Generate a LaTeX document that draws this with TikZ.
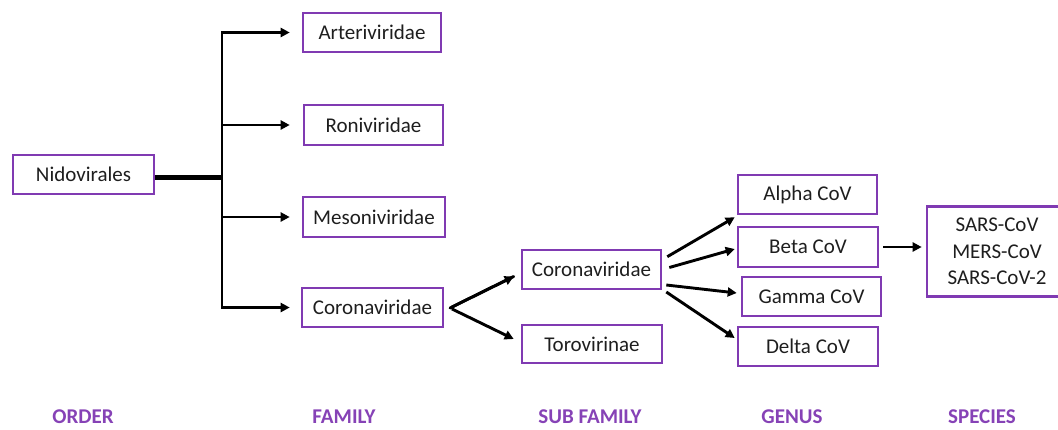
\documentclass[tikz,border=0pt]{standalone}
\usepackage{fontspec}
\setmainfont{Carlito}
\usetikzlibrary{arrows.meta}
\definecolor{boxc}{RGB}{128,58,178}
\definecolor{labc}{RGB}{134,66,182}
\definecolor{txt}{RGB}{30,30,30}
\begin{document}
\begin{tikzpicture}[x=1pt,y=-1pt,
  box/.style={draw=boxc, line width=2.6pt, text=txt, inner sep=0pt,
    font=\fontsize{21}{26.5}\selectfont},
  lab/.style={text=labc, font=\fontsize{21}{24}\selectfont\bfseries},
  conn/.style={line width=2.9pt, black},
  arr/.style={conn, -{Triangle[length=9pt,width=9pt]}}]
\useasboundingbox (0,0) rectangle (1058,429);
\begin{scope}
\clip (0,0) rectangle (1058,429);
% nodes
\node[box, minimum width=141pt, minimum height=39pt] (nido) at (83.5,174.5) {Nidovirales};
\node[box, minimum width=138pt, minimum height=39pt] (arter) at (372,32.5) {Arteriviridae};
\node[box, minimum width=139pt, minimum height=40pt] (roni) at (373.5,125) {Roniviridae};
\node[box, minimum width=142pt, minimum height=40pt] (meso) at (374,217) {Mesoniviridae};
\node[box, minimum width=141pt, minimum height=39pt] (corof) at (372.5,307.5) {Coronaviridae};
\node[box, minimum width=139pt, minimum height=39pt] (coros) at (591.5,269.5) {Coronaviridae};
\node[box, minimum width=140pt, minimum height=38pt] (toro) at (592,344) {Torovirinae};
\node[box, minimum width=139pt, minimum height=39pt] (alpha) at (807.5,194.5) {Alpha CoV};
\node[box, minimum width=140pt, minimum height=40pt] (beta) at (808,247) {Beta CoV};
\node[box, minimum width=139pt, minimum height=39pt] (gamma) at (811.5,296.5) {Gamma CoV};
\node[box, minimum width=140pt, minimum height=39pt] (delta) at (808,346.5) {Delta CoV};
\node[box, minimum width=140pt, minimum height=90pt, align=center] (species) at (997,251.5) {SARS-CoV\\MERS-CoV\\SARS-CoV-2};
\end{scope}
% labels
\node[lab] (lorder) at (83,417) {ORDER};
\node[lab] (lfamily) at (344,417) {FAMILY};
\node[lab] (lsub) at (590,417) {SUB FAMILY};
\node[lab] (lgenus) at (792,417) {GENUS};
\node[lab] (lspecies) at (982,417) {SPECIES};
% tree connectors
\coordinate (hub) at (222,177);
\coordinate (vtop) at (222,32.5);
\coordinate (vr) at (222,125);
\coordinate (vm) at (222,217);
\coordinate (vbot) at (222,307.5);
\draw[line width=5pt] ([yshift=-2.5pt]nido.east) -- (hub);
\draw[conn, line cap=rect] (vtop) -- (vbot);
\draw[arr, shorten >=12pt] (vtop) -- (arter.west);
\draw[arr, shorten >=13pt] (vr) -- (roni.west);
\draw[arr, shorten >=12pt] (vm) -- (meso.west);
\draw[arr, shorten >=11pt] (vbot) -- (corof.west);
% fork to subfamily
\coordinate (fork) at (450,308);
\draw[conn, line cap=round] (fork) -- ([xshift=-7pt,yshift=-7pt]coros.west);
\draw[arr, shorten <=2pt] (fork) -- ([xshift=-7pt,yshift=-7pt]coros.west);
\draw[arr, shorten <=2pt] (fork) -- ([xshift=-7pt,yshift=5pt]toro.west);
% to genus
\draw[arr] ([xshift=5pt,yshift=-8pt]coros.north east) -- ([xshift=-2pt,yshift=-2pt]alpha.south west);
\draw[arr] ([xshift=7pt,yshift=2pt]coros.east) -- ([xshift=-2pt,yshift=-2pt]beta.west);
\draw[arr] ([xshift=4pt,yshift=-15.5pt]coros.east) -- ([xshift=-4pt,yshift=3.5pt]gamma.west);
\draw[arr] ([xshift=4pt,yshift=-22.5pt]coros.east) -- ([xshift=-2pt,yshift=8.5pt]delta.west);
% to species
\draw[arr, shorten <=4pt, shorten >=4pt] (beta.east) -- (species.west |- beta.east);
\end{tikzpicture}
\end{document}
